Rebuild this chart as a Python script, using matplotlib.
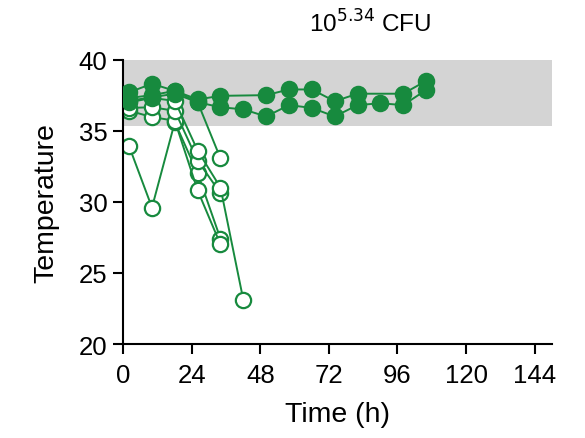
import matplotlib
matplotlib.use("Agg")
import matplotlib.pyplot as plt

# data
x_ticks = [0, 24, 48, 72, 96, 120, 144]
y_ticks = [20, 25, 30, 35, 40]
normal_band = (35.3, 40)

# mice that did not survive (open circles)
dead_t = [
    [2, 10, 18, 26, 34],
    [2, 10, 18, 26, 34],
    [2, 10, 18, 26, 34],
    [2, 10, 18, 26, 34, 42],
    [2, 10, 18, 26, 34],
]
dead_v = [
    [33.9, 29.6, 35.6, 32.0, 27.4],
    [36.4, 35.96, 35.7, 30.8, 27.0],
    [36.6, 36.65, 36.4, 32.9, 30.6],
    [37.0, 37.3, 37.1, 33.6, 31.0, 23.1],
    [37.3, 37.5, 37.8, 37.0, 33.05],
]

# survivors (filled circles)
alive_t = [
    [2, 10, 18, 26, 34, 50, 58, 66, 74, 82, 98, 106],
    [2, 10, 18, 26, 34, 42, 50, 58, 66, 74, 82, 90, 98, 106],
]
alive_v = [
    [37.7, 38.3, 37.8, 37.2, 37.45, 37.5, 37.9, 37.9, 37.07, 37.6, 37.6, 38.5],
    [37.1, 37.35, 37.6, 37.0, 36.65, 36.5, 36.0, 36.8, 36.6, 36.0, 36.8, 36.93, 36.8, 37.86],
]

green = "#178a3e"

plt.rcParams['font.family'] = ['Liberation Sans', 'DejaVu Sans']

fig = plt.figure(figsize=(5.85, 4.39), dpi=100)
ax = fig.add_axes([0.211, 0.214, 0.732, 0.648])

ax.axhspan(normal_band[0], normal_band[1], color="#d4d4d4", lw=0, zorder=0)

for t, v in zip(dead_t, dead_v):
    ax.plot(t, v, "-o", color=green, lw=1.4, ms=11, mfc="white", mec=green, mew=1.6, zorder=2)

for t, v in zip(alive_t, alive_v):
    ax.plot(t, v, "-o", color=green, lw=1.4, ms=11, mfc=green, mec=green, mew=1.6, zorder=3)

ax.set_xlim(0, 150)
ax.set_ylim(20, 40)
ax.set_xticks(x_ticks)
ax.set_yticks(y_ticks)
ax.spines["top"].set_visible(False)
ax.spines["right"].set_visible(False)
for s in ["left", "bottom"]:
    ax.spines[s].set_linewidth(1.5)
ax.tick_params(direction="out", length=7.5, width=1.5, labelsize=18.5)
ax.tick_params(axis="x", pad=6)
ax.tick_params(axis="y", pad=4)
ax.set_xlabel("Time (h)", fontsize=20.5, labelpad=10)
ax.set_ylabel("Temperature", fontsize=20.5, labelpad=14)

fig.text(0.632, 0.945, "10$^{5.34}$ CFU", ha="center", va="center", fontsize=17.5)

fig.savefig("out.png", dpi=100)
